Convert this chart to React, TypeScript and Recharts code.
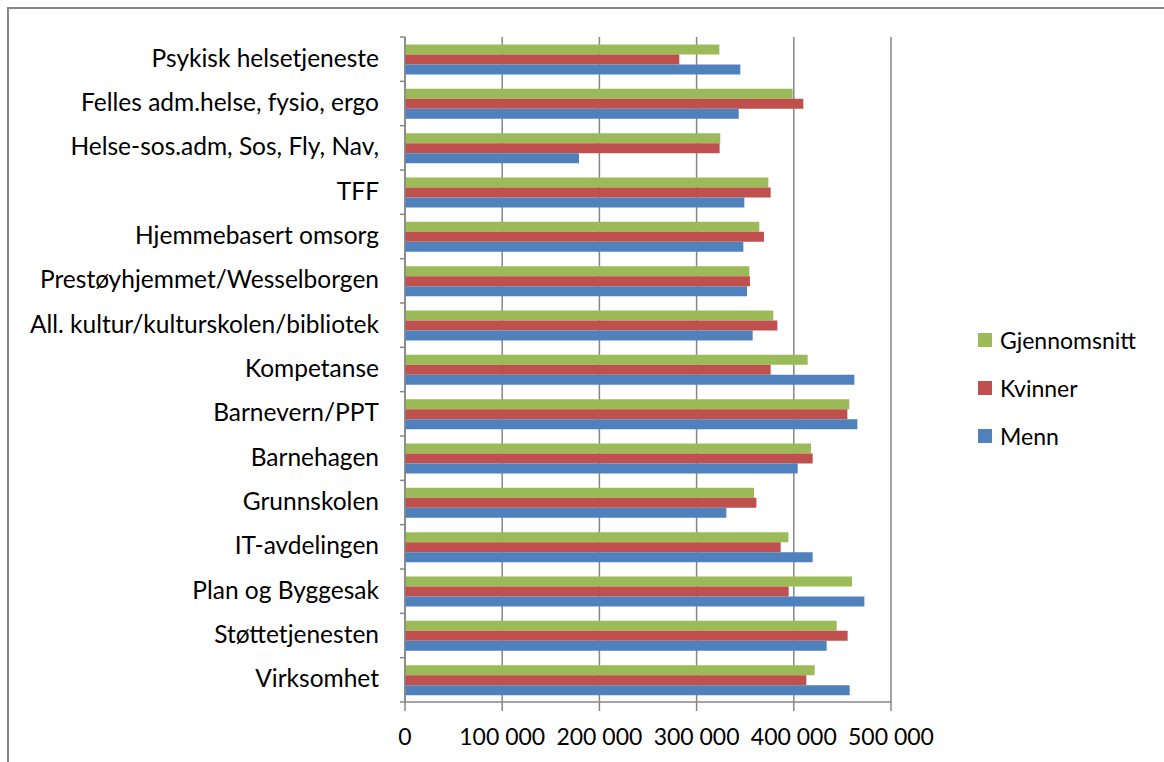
import { Bar, BarChart, CartesianGrid, XAxis, YAxis } from 'recharts';

const categories = [
  'Psykisk helsetjeneste',
  'Felles adm.helse, fysio, ergo',
  'Helse-sos.adm, Sos, Fly, Nav,',
  'TFF',
  'Hjemmebasert omsorg',
  'Prestøyhjemmet/Wesselborgen',
  'All. kultur/kulturskolen/bibliotek',
  'Kompetanse',
  'Barnevern/PPT',
  'Barnehagen',
  'Grunnskolen',
  'IT-avdelingen',
  'Plan og Byggesak',
  'Støttetjenesten',
  'Virksomhet',
];

const gjennomsnitt = [
  323400, 398800, 324400, 373800, 364500, 354300, 378900, 414300, 457100, 417700, 359100,
  394400, 459900, 444100, 421500,
];
const kvinner = [
  282200, 409800, 323700, 376200, 369300, 354900, 383100, 376200, 455100, 419400, 361500,
  386500, 394700, 455400, 412900,
];
const menn = [
  345000, 343300, 179000, 349100, 348100, 351900, 357700, 462300, 465400, 404000, 330600,
  419400, 472600, 433800, 457500,
];

const xTicks = [0, 100000, 200000, 300000, 400000, 500000];

const series = [
  { key: 'Gjennomsnitt', color: '#9BBB59' },
  { key: 'Kvinner', color: '#C0504D' },
  { key: 'Menn', color: '#4F81BD' },
];

const data = categories.map((name, i) => ({
  name,
  Gjennomsnitt: gjennomsnitt[i],
  Kvinner: kvinner[i],
  Menn: menn[i],
}));

const FONT = 'Lato, sans-serif';
const GRID = '#868686';
const HALF_BAND = 664.7 / categories.length / 2;

const fmt = (v: number) => String(v).replace(/\B(?=(\d{3})+(?!\d))/g, ' ');

// category ticks sit on band edges (Excel style), labels in the band middle
const CatTick = (props: any) => {
  const { x, y, payload, index } = props;
  return (
    <g>
      <line x1={x - 5} x2={x} y1={y - HALF_BAND} y2={y - HALF_BAND} stroke={GRID} strokeWidth={1.5} />
      {index === categories.length - 1 && (
        <line x1={x - 5} x2={x} y1={y + HALF_BAND} y2={y + HALF_BAND} stroke={GRID} strokeWidth={1.5} />
      )}
      <text x={x - 26} y={y} dy="0.3em" textAnchor="end" fill="#000" fontSize={24.5} fontFamily={FONT}>
        {payload.value}
      </text>
    </g>
  );
};

export default function App() {
  return (
    <div style={{ position: 'absolute', left: 0, top: 0, width: 1164, height: 762, background: '#fff', overflow: 'hidden' }}>
      <div
        style={{
          position: 'absolute',
          left: 7,
          top: 7,
          width: 1200,
          height: 800,
          borderLeft: `2px solid ${GRID}`,
          borderTop: `2px solid ${GRID}`,
        }}
      />
      <BarChart
        width={1164}
        height={762}
        data={data}
        layout="vertical"
        margin={{ top: 37, right: 273, bottom: 0, left: 0 }}
        barCategoryGap="17%"
        barGap={0}
        style={{ position: 'absolute', left: 0, top: 0 }}
      >
        <CartesianGrid horizontal={false} stroke={GRID} strokeWidth={1.5} />
        <XAxis
          type="number"
          domain={[0, 500000]}
          ticks={xTicks}
          tickFormatter={fmt}
          height={60}
          tickSize={9}
          tickMargin={18}
          axisLine={{ stroke: GRID, strokeWidth: 1.5 }}
          tickLine={{ stroke: GRID, strokeWidth: 1.5 }}
          tick={{ fill: '#000', fontSize: 23, fontFamily: FONT }}
          interval={0}
        />
        <YAxis
          type="category"
          dataKey="name"
          width={405}
          tickSize={0}
          tickMargin={0}
          tickLine={false}
          axisLine={{ stroke: GRID, strokeWidth: 1.5 }}
          tick={<CatTick />}
          interval={0}
        />
        {series.map((s) => (
          <Bar key={s.key} dataKey={s.key} fill={s.color} isAnimationActive={false} />
        ))}
      </BarChart>
      <div style={{ position: 'absolute', left: 978, top: 316, fontFamily: FONT, fontSize: 23, color: '#000' }}>
        {series.map((s) => (
          <div key={s.key} style={{ display: 'flex', alignItems: 'center', height: 48 }}>
            <span style={{ width: 14, height: 14, background: s.color, marginRight: 8 }} />
            {s.key}
          </div>
        ))}
      </div>
    </div>
  );
}
